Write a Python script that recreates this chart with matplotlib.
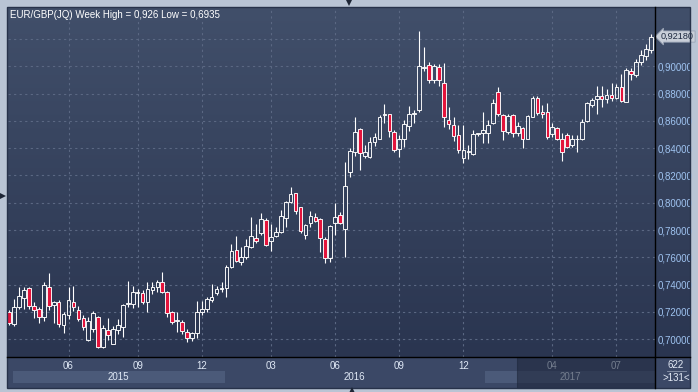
import matplotlib
matplotlib.use('Agg')
import matplotlib.pyplot as plt
import matplotlib.transforms as mtransforms
from matplotlib.patches import Rectangle
from matplotlib.ticker import FuncFormatter
import numpy as np

plt.rcParams['font.family'] = ['Liberation Sans', 'DejaVu Sans']

# weekly EUR/GBP candles (131 visible bars)
opens = [0.7198, 0.7112, 0.7239, 0.7305, 0.7373, 0.7244, 0.7222, 0.7161, 0.7381, 0.7249,
         0.7271, 0.7102, 0.7176, 0.7271, 0.7212, 0.7154, 0.6993, 0.7078, 0.7166, 0.6944,
         0.7071, 0.6963, 0.7070, 0.7093, 0.7259, 0.7259, 0.7337, 0.7342, 0.7271, 0.7359,
         0.7383, 0.7417, 0.7349, 0.7198, 0.7134, 0.7124, 0.7051, 0.7007, 0.7044, 0.7198,
         0.7222, 0.7285, 0.7342, 0.7366, 0.7373, 0.7532, 0.7654, 0.7564, 0.7605, 0.7678,
         0.7744, 0.7776, 0.7874, 0.7722, 0.7759, 0.7788, 0.7891, 0.8003, 0.8069, 0.7966,
         0.7766, 0.7849, 0.7893, 0.7878, 0.7732, 0.7598, 0.7849, 0.7910, 0.7810, 0.8225,
         0.8374, 0.8537, 0.8345, 0.8337, 0.8442, 0.8471, 0.8640, 0.8647, 0.8520, 0.8393,
         0.8471, 0.8564, 0.8650, 0.8679, 0.8989, 0.9013, 0.8899, 0.8996, 0.8881, 0.8610,
         0.8569, 0.8496, 0.8330, 0.8371, 0.8357, 0.8503, 0.8508, 0.8513, 0.8586, 0.8813,
         0.8642, 0.8520, 0.8642, 0.8508, 0.8545, 0.8471, 0.8630, 0.8771, 0.8667, 0.8662,
         0.8501, 0.8545, 0.8464, 0.8496, 0.8423, 0.8467, 0.8467, 0.8598, 0.8720, 0.8757,
         0.8784, 0.8764, 0.8789, 0.8769, 0.8847, 0.8740, 0.8967, 0.8935, 0.9028, 0.9076,
         0.9118]
highs = [0.7215, 0.7295, 0.7381, 0.7386, 0.7381, 0.7276, 0.7234, 0.7422, 0.7483, 0.7280,
         0.7288, 0.7198, 0.7383, 0.7388, 0.7246, 0.7178, 0.7161, 0.7210, 0.7173, 0.7105,
         0.7159, 0.7095, 0.7150, 0.7256, 0.7427, 0.7393, 0.7368, 0.7361, 0.7422, 0.7422,
         0.7434, 0.7490, 0.7354, 0.7207, 0.7198, 0.7139, 0.7076, 0.7056, 0.7281, 0.7281,
         0.7312, 0.7407, 0.7393, 0.7417, 0.7544, 0.7695, 0.7756, 0.7673, 0.7732, 0.7893,
         0.7844, 0.7927, 0.7886, 0.7844, 0.7820, 0.7947, 0.8015, 0.8113, 0.8074, 0.7971,
         0.7844, 0.7942, 0.7927, 0.7886, 0.7747, 0.7837, 0.7996, 0.7935, 0.8300, 0.8398,
         0.8625, 0.8545, 0.8423, 0.8484, 0.8515, 0.8642, 0.8723, 0.8654, 0.8532, 0.8496,
         0.8606, 0.8708, 0.8679, 0.9260, 0.9138, 0.9033, 0.9020, 0.9020, 0.9025, 0.8700,
         0.8630, 0.8569, 0.8569, 0.8423, 0.8532, 0.8515, 0.8667, 0.8606, 0.8764, 0.8845,
         0.8654, 0.8647, 0.8649, 0.8593, 0.8557, 0.8642, 0.8781, 0.8784, 0.8720, 0.8728,
         0.8588, 0.8557, 0.8508, 0.8508, 0.8496, 0.8496, 0.8613, 0.8740, 0.8769, 0.8854,
         0.8857, 0.8837, 0.8874, 0.8869, 0.8947, 0.8989, 0.8984, 0.9057, 0.9118, 0.9167,
         0.9235]
lows = [0.7105, 0.7100, 0.7222, 0.7220, 0.7220, 0.7159, 0.7117, 0.7137, 0.7215, 0.7122,
        0.7088, 0.7049, 0.7149, 0.7207, 0.7134, 0.7068, 0.6988, 0.7056, 0.6939, 0.6935,
        0.6995, 0.6963, 0.7040, 0.7020, 0.7239, 0.7227, 0.7239, 0.7256, 0.7198, 0.7332,
        0.7349, 0.7337, 0.7166, 0.7112, 0.7056, 0.7041, 0.6983, 0.6988, 0.7007, 0.7178,
        0.7198, 0.7271, 0.7325, 0.7349, 0.7312, 0.7520, 0.7569, 0.7544, 0.7588, 0.7666,
        0.7708, 0.7764, 0.7683, 0.7649, 0.7747, 0.7781, 0.7825, 0.7996, 0.7917, 0.7781,
        0.7732, 0.7820, 0.7861, 0.7642, 0.7561, 0.7569, 0.7764, 0.7844, 0.7600, 0.8191,
        0.8342, 0.8240, 0.8330, 0.8330, 0.8418, 0.8464, 0.8586, 0.8479, 0.8369, 0.8332,
        0.8410, 0.8527, 0.8581, 0.8667, 0.8967, 0.8879, 0.8879, 0.8855, 0.8557, 0.8540,
        0.8454, 0.8362, 0.8293, 0.8320, 0.8349, 0.8493, 0.8440, 0.8440, 0.8574, 0.8635,
        0.8459, 0.8501, 0.8484, 0.8491, 0.8398, 0.8464, 0.8625, 0.8642, 0.8618, 0.8471,
        0.8484, 0.8459, 0.8308, 0.8398, 0.8410, 0.8374, 0.8459, 0.8593, 0.8703, 0.8647,
        0.8703, 0.8728, 0.8745, 0.8757, 0.8735, 0.8740, 0.8898, 0.8918, 0.9008, 0.9045,
        0.9101]
closes = [0.7117, 0.7234, 0.7320, 0.7364, 0.7244, 0.7212, 0.7161, 0.7395, 0.7246, 0.7275,
          0.7110, 0.7183, 0.7285, 0.7239, 0.7149, 0.7088, 0.7132, 0.7190, 0.6944, 0.7083,
          0.7029, 0.7073, 0.7103, 0.7251, 0.7268, 0.7344, 0.7344, 0.7271, 0.7366, 0.7383,
          0.7417, 0.7349, 0.7190, 0.7129, 0.7139, 0.7063, 0.7007, 0.7044, 0.7198, 0.7222,
          0.7295, 0.7310, 0.7368, 0.7373, 0.7527, 0.7649, 0.7573, 0.7605, 0.7686, 0.7759,
          0.7722, 0.7878, 0.7691, 0.7747, 0.7786, 0.7903, 0.8003, 0.8061, 0.7942, 0.7791,
          0.7834, 0.7903, 0.7869, 0.7739, 0.7598, 0.7827, 0.7895, 0.7849, 0.8122, 0.8381,
          0.8520, 0.8362, 0.8369, 0.8442, 0.8479, 0.8630, 0.8654, 0.8525, 0.8386, 0.8466,
          0.8574, 0.8654, 0.8657, 0.9001, 0.8994, 0.8899, 0.9003, 0.8899, 0.8625, 0.8576,
          0.8491, 0.8386, 0.8386, 0.8376, 0.8501, 0.8508, 0.8532, 0.8569, 0.8732, 0.8649,
          0.8525, 0.8635, 0.8513, 0.8562, 0.8471, 0.8635, 0.8771, 0.8659, 0.8654, 0.8479,
          0.8552, 0.8471, 0.8369, 0.8406, 0.8464, 0.8471, 0.8589, 0.8728, 0.8750, 0.8781,
          0.8759, 0.8793, 0.8769, 0.8845, 0.8745, 0.8972, 0.8940, 0.9028, 0.9081, 0.9130,
          0.9218]

month_pos = [12, 26, 39, 53, 66, 79, 92, 110, 123]
month_labels = ['06', '09', '12', '03', '06', '09', '12', '04', '07']
year_edges = [0.75, 43.6, 96.4, 130.81]
year_labels = ['2015', '2016', '2017']
price_ticks = [0.70, 0.72, 0.74, 0.76, 0.78, 0.80, 0.82, 0.84, 0.86, 0.88, 0.90, 0.92]
title = 'EUR/GBP(JQ) Week High = 0,926 Low = 0,6935'
total_bars = 622
shown_bars = 131

W, H = 698, 392
FS = 7


def box(x0, y0, x1, y1):
    # pixel box (top-left origin) -> figure fraction
    return [x0 / W, 1 - y1 / H, (x1 - x0) / W, (y1 - y0) / H]


fig = plt.figure(figsize=(W / 100, H / 100), dpi=100)
fig.patch.set_facecolor('#b9c4d4')

# panel background
bg = fig.add_axes([0, 0, 1, 1])
t = np.linspace(0, 1, 256)[:, None, None]
top_c = np.array([65, 79, 106]) / 255
bot_c = np.array([42, 53, 80]) / 255
bg.imshow(top_c + (bot_c - top_c) * t, extent=(7, 690, 357, 7), aspect='auto', zorder=0)
bg.add_patch(Rectangle((7, 357), 683, 31, fc='#3b4866', ec='none', zorder=1))
bg.set_xlim(0, W)
bg.set_ylim(H, 0)
bg.axis('off')

# main chart
ax = fig.add_axes(box(8, 8, 655, 357))
ax.set_facecolor('none')
for s in ax.spines.values():
    s.set_visible(False)

x = np.arange(len(closes))
o = np.array(opens)
c = np.array(closes)
top = np.maximum(o, c)
bot = np.minimum(o, c)
ax.vlines(x, top, highs, color='white', lw=0.8, zorder=3)
ax.vlines(x, lows, bot, color='white', lw=0.8, zorder=3)
face = ['none' if cc >= oo else '#e3143c' for oo, cc in zip(opens, closes)]
ax.bar(x, np.maximum(top - bot, 0.0003), bottom=bot, width=0.74, color=face,
       edgecolor='white', linewidth=0.65, zorder=4)

ax.set_xlim(-0.26, 130.81)
ax.set_ylim(0.68703, 0.94271)
ax.set_yticks(price_ticks)
ax.set_xticks(month_pos)
ax.set_xticklabels(month_labels)
ax.yaxis.tick_right()
ax.yaxis.set_major_formatter(FuncFormatter(
    lambda v, _: '' if v > 0.91 else f'{v:.5f}'.replace('.', ',')))
ax.grid(True, color='#5b6883', ls=(0, (2, 3)), lw=0.8, zorder=1)
ax.tick_params(axis='y', length=0, pad=2.0, labelsize=FS, labelcolor='#9fc3f0')
ax.tick_params(axis='x', length=0, pad=3, labelsize=FS, labelcolor='#dfe8f5')

# year bands under the month row
trans = ax.get_xaxis_transform()
fy = lambda py: (357 - py) / 349
for i, lab in enumerate(year_labels):
    x0, x1 = year_edges[i], year_edges[i + 1]
    if i % 2 == 0:
        ax.add_patch(Rectangle((x0, fy(383)), x1 - x0, fy(371) - fy(383), transform=trans,
                               fc='#4b5a79', ec='none', clip_on=False, zorder=0.5))
    ax.text((x0 + x1) / 2, fy(377), lab, transform=trans, ha='center', va='center',
            fontsize=FS, color='#dfe8f5', clip_on=False)

# darker shaded zone on the right of the date axis
ax.add_patch(Rectangle((102.8, fy(388)), 130.81 - 102.8, fy(357) - fy(388), transform=trans,
                       fc='#1c2539', ec='#1c2539', lw=0.8, alpha=0.55, clip_on=False, zorder=6))

# last price tag
ytr = mtransforms.blended_transform_factory(ax.transAxes, ax.transData)
ax.text(1 + 6 / 647, closes[-1], f'{closes[-1]:.5f}'.replace('.', ','), transform=ytr,
        ha='left', va='center', fontsize=6.6, color='#1d2940', clip_on=False, zorder=10,
        bbox=dict(boxstyle='larrow,pad=0.12', fc='#c9cfd9', ec='#98a2b4', lw=0.6))

# overlay: frame lines, labels, small arrows
fg = fig.add_axes([0, 0, 1, 1])
fg.set_xlim(0, W)
fg.set_ylim(H, 0)
fg.axis('off')
fg.patch.set_alpha(0)
fg.plot([655, 655], [7, 388], color='black', lw=1)
fg.plot([7, 690], [357, 357], color='black', lw=1)
fg.add_patch(Rectangle((7, 7), 683, 381, fill=False, ec='#27324a', lw=1))
fg.text(10, 15, title, fontsize=FS, color='white', va='center', ha='left')
fg.text(676, 365, str(total_bars), fontsize=FS, color='#e3eaf5', ha='center', va='center')
fg.plot([667, 686], [371, 371], color='#8d98ad', lw=0.6)
fg.text(676, 378, f'>{shown_bars}<', fontsize=FS, color='#e3eaf5', ha='center', va='center')
fg.plot(349, 3, marker='v', ms=5, color='#1d2535', mew=0)
fg.plot(3, 196, marker='>', ms=5, color='#1d2535', mew=0)
fg.plot(352, 390, marker='^', ms=5, color='#1d2535', mew=0)

plt.savefig('out.png', dpi=100, facecolor=fig.get_facecolor())
